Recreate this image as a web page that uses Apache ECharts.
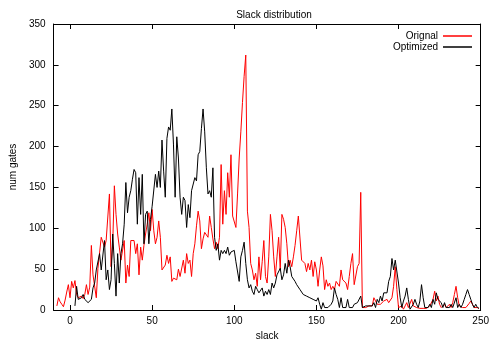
<!DOCTYPE html>
<html>
<head>
<meta charset="utf-8">
<script src="https://cdn.jsdelivr.net/npm/echarts@6/dist/echarts.min.js"></script>
<style>
  html, body { margin: 0; padding: 0; background: #fff; }
  #chart { width: 492px; height: 346px; }
</style>
</head>
<body>
<div id="chart"></div>
<script>
// slack value of the first point of each series (one point per integer slack)
const origStart = -8;
const origValues = [
  5, 15, 10, 7, 4, 12, 22, 31, 15, 35, 27, 36, 19, 15, 16, 17, 14, 19, 31, 19,
  28, 79, 43, 41, 15, 51, 49, 89, 89, 77, 85, 85, 142, 53, 81, 152, 117, 93, 77, 61,
  59, 85, 33, 55, 41, 85, 83, 85, 69, 81, 43, 77, 61, 79, 93, 105, 119, 97, 123, 97,
  81, 89, 109, 89, 49, 51, 55, 67, 57, 65, 35, 39, 38, 37, 50, 41, 43, 61, 45, 69,
  57, 61, 41, 69, 81, 103, 121, 109, 75, 87, 95, 97, 89, 115, 101, 87, 75, 83, 75, 89,
  178, 105, 146, 117, 168, 138, 190, 115, 113, 101, 142, 186, 218, 254, 286, 312, 121, 101, 57, 49,
  37, 45, 29, 65, 37, 59, 85, 41, 33, 65, 117, 97, 65, 41, 65, 89, 49, 117, 111, 101,
  81, 53, 61, 53, 65, 79, 97, 115, 117, 61, 61, 57, 47, 57, 49, 61, 41, 59, 49, 29,
  49, 65, 54, 25, 37, 29, 33, 25, 29, 25, 35, 33, 29, 49, 37, 37, 33, 25, 41, 57,
  69, 31, 31, 53, 57, 144, 3, 1, 3, 3, 5, 3, 5, 15, 11, 7, 9, 7, 5, 11,
  9, 13, 9, 11, 15, 29, 53, 25, 3, 5, 5, 1, 5, 9, 3, 3, 13, 5, 3, 3,
  1, 2, 3, 2, 1, 2, 3, 5, 7, 13, 23, 11, 17, 7, 3, 3, 7, 3, 3, 7,
  3, 9, 19, 29, 15, 5, 3, 3, 5, 3, 5, 8, 11, 7, 3, 1, 3, 2
];
const optStart = 3;
const optValues = [
  5, 29, 13, 11, 15, 19, 13, 15, 9, 11, 13, 27, 33, 49, 47, 69, 49, 47, 85, 37,
  49, 25, 37, 93, 57, 17, 69, 33, 69, 81, 105, 156, 119, 138, 146, 160, 172, 168, 105, 162,
  117, 166, 81, 117, 121, 81, 111, 127, 129, 166, 150, 170, 150, 208, 170, 138, 210, 224, 220, 246,
  202, 138, 212, 186, 138, 117, 138, 134, 101, 129, 113, 146, 148, 162, 158, 190, 194, 222, 246, 218,
  174, 142, 146, 138, 174, 89, 73, 81, 61, 73, 69, 73, 69, 77, 67, 71, 69, 73, 59, 57,
  35, 65, 73, 83, 57, 37, 27, 31, 23, 19, 29, 25, 21, 19, 27, 17, 23, 19, 25, 19,
  33, 27, 33, 43, 41, 51, 37, 43, 57, 45, 61, 53, 41, 43, 35, 31, 33, 25, 27, 19,
  21, 17, 19, 15, 17, 13, 11, 11, 15, 7, 1, 9, 3, 5, 3, 1, 7, 11, 27, 19,
  13, 3, 15, 3, 5, 3, 13, 3, 1, 3, 7, 7, 9, 11, 17, 3, 3, 5, 7, 5,
  7, 5, 9, 3, 13, 9, 17, 11, 21, 23, 21, 35, 41, 63, 49, 61, 63, 33, 15, 3,
  11, 17, 27, 13, 1, 3, 7, 13, 7, 3, 11, 31, 15, 3, 5, 3, 7, 3, 13, 7,
  21, 13, 11, 9, 3, 9, 3, 5, 3, 7, 3, 3, 15, 3, 7, 3, 7, 13, 19, 25,
  19, 13, 7, 3, 7, 3, 2
];
const xTicks = [0, 50, 100, 150, 200, 250];

const toPoints = (start, values) => values.map((v, i) => [start + i, v]);

const chart = echarts.init(document.getElementById('chart'));
const font = 'Liberation Sans, Arial, sans-serif';
const axisBase = {
  axisLine: { show: true, onZero: false, lineStyle: { color: '#000', width: 1 } },
  axisTick: { inside: true, length: 5, lineStyle: { color: '#000' } },
  splitLine: { show: false }
};

chart.setOption({
  animation: false,
  backgroundColor: '#fff',
  textStyle: { fontFamily: font },
  title: {
    text: 'Slack distribution',
    left: 269, top: 5, textAlign: 'center',
    textStyle: { fontSize: 10, fontWeight: 'normal', color: '#000', fontFamily: font }
  },
  legend: {
    orient: 'vertical',
    right: 15, top: 26,
    align: 'right',
    itemWidth: 29, itemHeight: 1.5, itemGap: 1,
    icon: 'rect',
    textStyle: { fontSize: 10, color: '#000', fontFamily: font, padding: [0, 0, 0, 0] },
    data: ['Orignal', 'Optimized']
  },
  grid: { left: 53, right: 7, top: 24, bottom: 32 },
  xAxis: [
    Object.assign({}, axisBase, {
      type: 'value', min: -10, max: 250,
      name: 'slack', nameLocation: 'middle', nameGap: 21,
      nameTextStyle: { fontSize: 10, color: '#000' },
      axisTick: { inside: true, length: 5, customValues: xTicks, lineStyle: { color: '#000' } },
      axisLabel: { customValues: xTicks, fontSize: 10, color: '#000', margin: 6 }
    }),
    Object.assign({}, axisBase, {
      type: 'value', min: -10, max: 250, position: 'top',
      axisTick: { inside: true, length: 5, customValues: xTicks, lineStyle: { color: '#000' } },
      axisLabel: { show: false }
    })
  ],
  yAxis: [
    Object.assign({}, axisBase, {
      type: 'value', min: 0, max: 350, interval: 50,
      name: 'num gates', nameLocation: 'middle', nameGap: 35, nameRotate: 90,
      nameTextStyle: { fontSize: 10, color: '#000' },
      axisLabel: { fontSize: 10, color: '#000', margin: 8 }
    }),
    Object.assign({}, axisBase, {
      type: 'value', min: 0, max: 350, interval: 50, position: 'right',
      axisLabel: { show: false }
    })
  ],
  series: [
    {
      name: 'Orignal', type: 'line', showSymbol: false, symbol: 'none',
      data: toPoints(origStart, origValues),
      lineStyle: { color: '#ff0000', width: 1 }, itemStyle: { color: '#ff0000' }
    },
    {
      name: 'Optimized', type: 'line', showSymbol: false, symbol: 'none',
      data: toPoints(optStart, optValues),
      lineStyle: { color: '#000000', width: 1 }, itemStyle: { color: '#000000' }
    }
  ]
});
</script>
</body>
</html>
